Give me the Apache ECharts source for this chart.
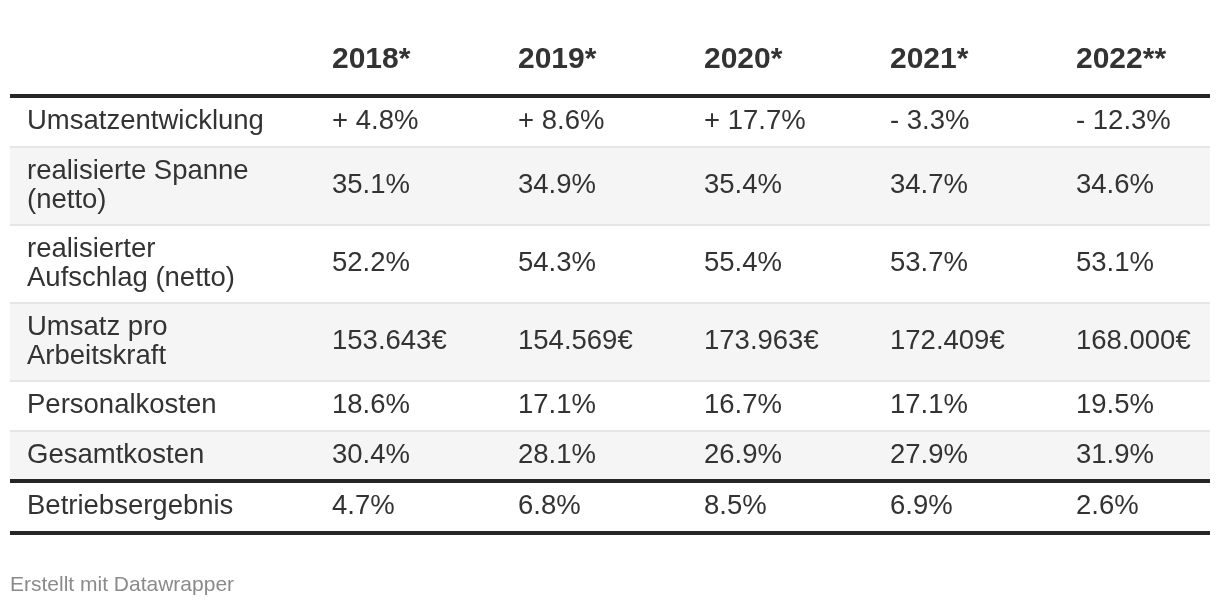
<!DOCTYPE html>
<html><head><meta charset="utf-8">
<script src="https://cdn.jsdelivr.net/npm/echarts@6/dist/echarts.min.js"></script>
<style>html,body{margin:0;padding:0;background:#fff}#c{width:1220px;height:608px}</style>
</head><body><div id="c"></div>
<script>
// ---------- data ----------
const columns = ["2018*", "2019*", "2020*", "2021*", "2022**"];
const rowLabels = [
  "Umsatzentwicklung",
  "realisierte Spanne\n(netto)",
  "realisierter\nAufschlag (netto)",
  "Umsatz pro\nArbeitskraft",
  "Personalkosten",
  "Gesamtkosten",
  "Betriebsergebnis"
];
const umsatzentwicklung = [4.8, 8.6, 17.7, -3.3, -12.3];
const spanne = [35.1, 34.9, 35.4, 34.7, 34.6];
const aufschlag = [52.2, 54.3, 55.4, 53.7, 53.1];
const umsatzProArbeitskraft = [153643, 154569, 173963, 172409, 168000];
const personalkosten = [18.6, 17.1, 16.7, 17.1, 19.5];
const gesamtkosten = [30.4, 28.1, 26.9, 27.9, 31.9];
const betriebsergebnis = [4.7, 6.8, 8.5, 6.9, 2.6];
const footerText = "Erstellt mit Datawrapper";

// ---------- formatting ----------
const fmtSigned = v => (v >= 0 ? "+ " : "- ") + Math.abs(v).toFixed(1) + "%";
const fmtPct = v => v.toFixed(1) + "%";
const fmtEuro = v => String(v).replace(/\B(?=(\d{3})+(?!\d))/g, ".") + "€";

const rowValues = [umsatzentwicklung, spanne, aufschlag, umsatzProArbeitskraft, personalkosten, gesamtkosten, betriebsergebnis];
const rowFormats = [fmtSigned, fmtPct, fmtPct, fmtEuro, fmtPct, fmtPct, fmtPct];

// ---------- layout (not data) ----------
const FONT = '"Liberation Sans", Arial, Helvetica, sans-serif';
const TEXT = '#333333';
const RULE = '#262626';
const X_MIN = -0.7312, X_MAX = 5.7204;   // column units: value column j sits at x=j+1
const LABEL_X = -0.6398;
const Y_MAX = 608;
const HEADER_Y = 59.5, HEADER_RULE = 96, FIRST_ROW_TOP = 97;
const ROW_PAD = 22, LINE_H = 28, LAST_ROW_H = 52;

// row extents computed from line counts
const rowTops = [], rowBottoms = [];
(function () {
  let y = FIRST_ROW_TOP;
  rowLabels.forEach((lab, i) => {
    const lines = lab.split("\n").length;
    const h = (i === rowLabels.length - 1) ? LAST_ROW_H : ROW_PAD + lines * LINE_H;
    rowTops.push(y); rowBottoms.push(y + h); y += h;
  });
})();
const lastIdx = rowLabels.length - 1;

const rowData = rowLabels.map((_, i) => [i, i]);

const chart = echarts.init(document.getElementById('c'), null, { renderer: 'canvas' });
chart.setOption({
  animation: false,
  backgroundColor: '#ffffff',
  title: {
    text: footerText, left: 10, top: 575, padding: 0,
    textStyle: { fontFamily: FONT, fontSize: 21, fontWeight: 'normal', color: '#8a8a8a' }
  },
  grid: { left: 10, right: 10, top: 0, bottom: 0 },
  xAxis: { type: 'value', min: X_MIN, max: X_MAX, show: false },
  yAxis: { type: 'value', min: 0, max: Y_MAX, inverse: true, show: false },
  series: [
    { // row stripes
      type: 'custom', z: 1, silent: true, data: rowData,
      renderItem: function (params, api) {
        const r = params.dataIndex;
        if (r % 2 !== 1) return null;
        const p0 = api.coord([X_MIN, rowTops[r]]);
        const p1 = api.coord([X_MAX, rowBottoms[r]]);
        return { type: 'rect', shape: { x: p0[0], y: p0[1], width: p1[0] - p0[0], height: p1[1] - p0[1] },
                 style: { fill: '#f5f5f5' } };
      }
    },
    { // rules
      type: 'custom', z: 2, silent: true, data: rowData,
      renderItem: function (params, api) {
        const r = params.dataIndex;
        const children = [];
        const line = (y, w, c) => {
          const a = api.coord([X_MIN, y]), b = api.coord([X_MAX, y]);
          children.push({ type: 'line', shape: { x1: a[0], y1: a[1], x2: b[0], y2: b[1] }, style: { stroke: c, lineWidth: w } });
        };
        if (r === 0) line(HEADER_RULE, 4, RULE);
        if (r < lastIdx - 1) line(rowBottoms[r], 2, '#e6e6e6');
        if (r === lastIdx) { line(rowTops[r], 4, RULE); line(rowBottoms[r], 4, RULE); }
        return { type: 'group', children: children };
      }
    },
    { // header texts
      type: 'custom', z: 3, silent: true, data: columns.map((c, j) => [j + 1, HEADER_Y]),
      renderItem: function (params, api) {
        const p = api.coord([params.dataIndex + 1, HEADER_Y]);
        return { type: 'text', x: p[0], y: p[1],
                 style: { text: columns[params.dataIndex], fill: TEXT, font: 'bold 30px ' + FONT,
                          align: 'left', verticalAlign: 'middle' } };
      }
    },
    { // cell texts
      type: 'custom', z: 3, silent: true, data: rowData,
      renderItem: function (params, api) {
        const r = params.dataIndex;
        const yc = (rowTops[r] + rowBottoms[r]) / 2 - 0.5;
        const children = [];
        const pL = api.coord([LABEL_X, yc]);
        children.push({ type: 'text', x: pL[0], y: pL[1],
          style: { text: rowLabels[r], fill: TEXT, fontFamily: FONT, fontSize: 27.5, lineHeight: LINE_H + 1,
                   align: 'left', verticalAlign: 'middle' } });
        rowValues[r].forEach((v, j) => {
          const p = api.coord([j + 1, yc]);
          children.push({ type: 'text', x: p[0], y: p[1],
            style: { text: rowFormats[r](v), fill: TEXT, fontFamily: FONT, fontSize: 27.5,
                     align: 'left', verticalAlign: 'middle' } });
        });
        return { type: 'group', children: children };
      }
    }
  ]
});
</script></body></html>
